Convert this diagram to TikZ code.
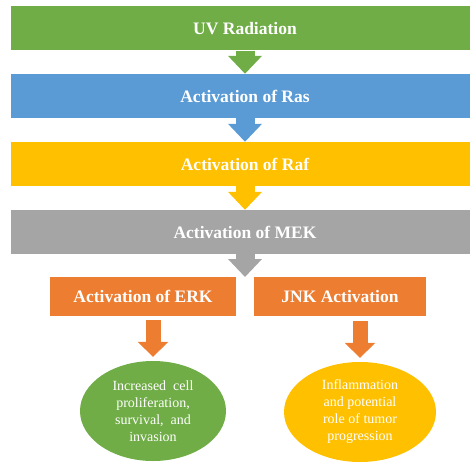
\documentclass[tikz,border=0pt]{standalone}
\usepackage{fontspec}
\setmainfont{Liberation Serif}
\usetikzlibrary{arrows.meta,shapes.geometric}
\definecolor{uvgreen}{HTML}{70AD47}
\definecolor{rasblue}{HTML}{5B9BD5}
\definecolor{rafyellow}{HTML}{FFC000}
\definecolor{mekgray}{HTML}{A5A5A5}
\definecolor{erkorange}{HTML}{ED7D31}

\begin{document}
\begin{tikzpicture}[x=1pt,y=-1pt,
		bar/.style={fill=#1,minimum width=468pt,minimum height=44pt,inner sep=0pt,text=white,font=\fontsize{17.5}{20}\selectfont\bfseries},
		subbox/.style={fill=erkorange,minimum height=39pt,inner sep=0pt,text=white,font=\fontsize{17.5}{20}\selectfont\bfseries},
		result/.style={ellipse,fill=#1,inner sep=0pt,minimum height=100pt,text=white,align=center,font=\fontsize{14}{17}\selectfont},
		bigarrow/.style={draw=#1,line width=19pt,-{Triangle[width=33pt,length=18pt]}},
		smallarrow/.style={draw=erkorange,line width=15pt,-{Triangle[width=30pt,length=15pt]}}]
		%%%%% START %%%%%
		\useasboundingbox (0,0) rectangle (470,462);
		
		\node[bar=uvgreen] (uv) at (245, 28.5) {UV Radiation};
		\node[bar=rasblue] (ras) at (245, 96) {Activation of Ras};
		\node[bar=rafyellow] (raf) at (245, 164) {Activation of Raf};
		\node[bar=mekgray] (mek) at (245, 232) {Activation of MEK};
		
		\node[subbox,minimum width=186pt] (erk) at (143, 296.5) {Activation of ERK};
		\node[subbox,minimum width=172pt] (jnk) at (340, 296.5) {JNK Activation};
		\coordinate (fork) at (245, 277);
		
		\node[result=uvgreen,minimum width=146pt] (prolif) at (153, 411) {Increased\ \ cell\\proliferation,\\survival,\ \ and\\invasion};
		\node[result=rafyellow,minimum width=152pt] (inflam) at (360, 412) {Inflammation\\and potential\\role of tumor\\progression};
		
		\draw[bigarrow=uvgreen] (uv.south) -- (ras.north);
		\draw[bigarrow=rasblue] (ras.south) -- (raf.north);
		\draw[bigarrow=rafyellow] (raf.south) -- (mek.north);
		\draw[bigarrow=mekgray] (mek.south) -- (fork);
		
		\draw[smallarrow] ([yshift=-4pt]erk.south -| prolif.north) -- ([yshift=4pt]prolif.north);
		\draw[smallarrow] ([yshift=-5pt]jnk.south -| inflam.north) -- ([yshift=4pt]inflam.north);
		%%%%% END %%%%%
\end{tikzpicture}
\end{document}
